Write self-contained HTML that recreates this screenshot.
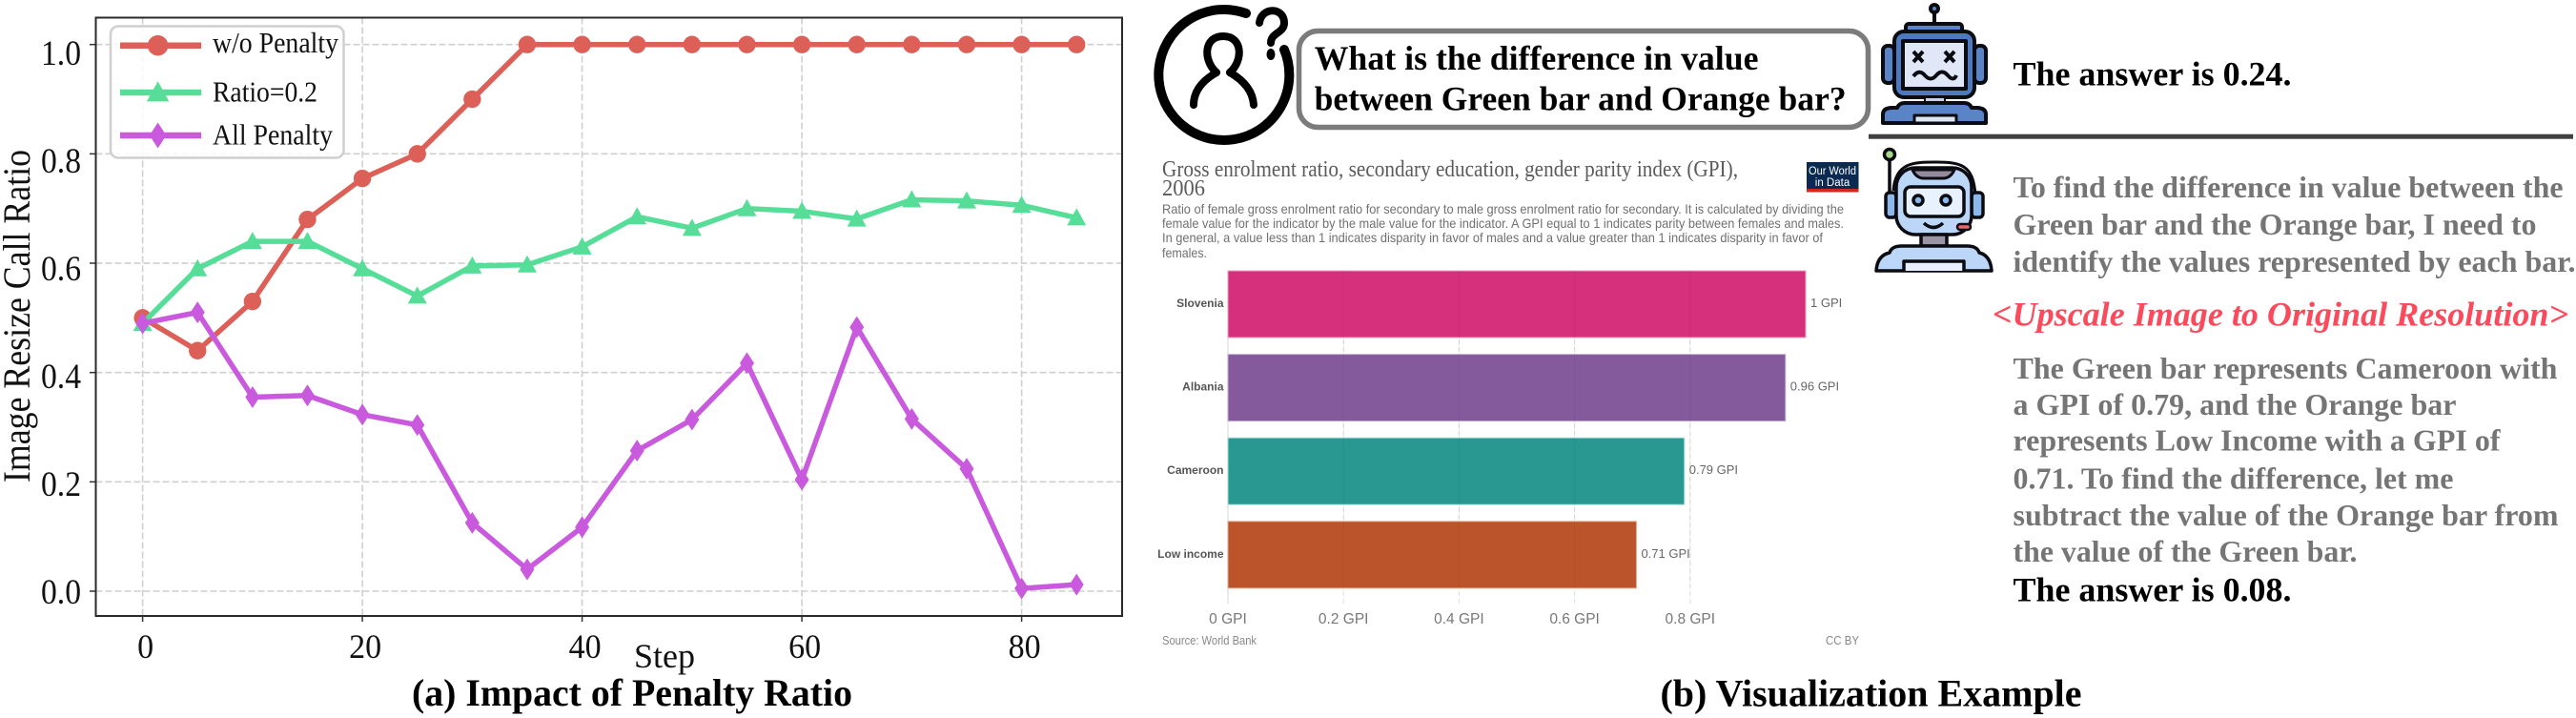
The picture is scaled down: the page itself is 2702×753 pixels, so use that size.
<!DOCTYPE html>
<html lang="en">
<head>
<meta charset="utf-8">
<title>Penalty Ratio and Visualization Example</title>
<style>
html,body{margin:0;padding:0;background:#fff;width:2702px;height:753px;overflow:hidden}
svg{display:block}
.tnr{font-family:"Liberation Serif","Times New Roman",serif}
.sans{font-family:"Liberation Sans",Arial,sans-serif}
.b{font-weight:700}
.gray{fill:#757575;font-size:32px;font-weight:700}
.ans{fill:#000;font-size:36px;font-weight:700}
.sub{fill:#707070;font-size:14px}
</style>
</head>
<body>
<svg id="figure" xmlns="http://www.w3.org/2000/svg" width="2702" height="753" viewBox="0 0 2702 753">
  <rect x="0" y="0" width="2702" height="753" fill="#fff"/>

  <g id="line-chart"></g>

  <text class="tnr" x="31" y="331.5" font-size="40" fill="#111" text-anchor="middle" transform="rotate(-90 31 331.5)" textLength="349" lengthAdjust="spacingAndGlyphs">Image Resize Call Ratio</text>
  <text class="tnr" x="665" y="700" font-size="36" fill="#111" textLength="64" lengthAdjust="spacingAndGlyphs">Step</text>
  <text class="tnr b" x="432" y="740" font-size="40" fill="#000" textLength="462" lengthAdjust="spacingAndGlyphs">(a) Impact of Penalty Ratio</text>

  <!-- person icon -->
  <g fill="none" stroke="#000" stroke-linecap="round">
    <path d="M1307 14 A68.5 68.5 0 1 0 1347 52" stroke-width="10"/>
    <path d="M1276 76 C1262 64 1262 38 1283 38 C1304 38 1304 64 1290 76" stroke-width="8"/>
    <path d="M1276 76 C1262 84 1252 95 1252 110 M1290 76 C1304 84 1314 95 1315 110" stroke-width="8"/>
    <path d="M1321 24 C1323 7 1347 7 1347 24 C1347 35 1333 34 1333 45" stroke-width="8"/>
    <ellipse cx="1333" cy="57" rx="4.5" ry="6" fill="#000" stroke="none"/>
  </g>

  <!-- question -->
  <rect x="1362.5" y="32.5" width="597" height="101" rx="20" ry="20" fill="#fff" stroke="#7b7b7b" stroke-width="5.5"/>
  <text class="tnr b" x="1378.6" y="73" font-size="36" fill="#000" textLength="466" lengthAdjust="spacingAndGlyphs">What is the difference in value</text>
  <text class="tnr b" x="1378.6" y="115.7" font-size="36" fill="#000" textLength="558" lengthAdjust="spacingAndGlyphs">between Green bar and Orange bar?</text>

  <!-- broken robot -->
  <g stroke="#0b0b12" stroke-width="4" stroke-linejoin="round">
    <circle cx="2029" cy="9" r="4" fill="#5b84c8"/>
    <line x1="2029" y1="13" x2="2029" y2="25"/>
    <rect x="1999" y="25" width="59" height="10" rx="3" fill="#5b84c8"/>
    <rect x="1975" y="48" width="12" height="39" rx="5" fill="#5b84c8"/>
    <rect x="2071" y="48" width="12" height="39" rx="5" fill="#5b84c8"/>
    <rect x="1987" y="33" width="84" height="69" rx="10" fill="#4f79bf"/>
    <rect x="1996" y="43" width="66" height="50" fill="#e0e8f7"/>
    <path d="M2007 54 L2017 65 M2017 54 L2007 65 M2040 54 L2050 65 M2050 54 L2040 65" fill="none"/>
    <path d="M2007 80 Q2013 72 2019 79 T2031 79 T2043 79 T2052 79" fill="none"/>
    <rect x="2019" y="102" width="21" height="6" fill="#c5d3ec" stroke-width="2"/>
    <path d="M1975 129 L1975 120 Q1975 113 1985 113 L1990 113 Q1992 108 1998 108 L2060 108 Q2066 108 2068 113 L2073 113 Q2083 113 2083 120 L2083 129 Z" fill="#5b84c8"/>
    <rect x="2008" y="121" width="44" height="8" fill="#dfe7f6" stroke-width="3"/>
  </g>

  <text class="tnr ans" x="2111.5" y="89.3" textLength="292" lengthAdjust="spacingAndGlyphs">The answer is 0.24.</text>
  <rect x="1960" y="140.7" width="739" height="5" fill="#404040"/>

  <!-- helpful robot -->
  <g stroke="#0b0b12" stroke-width="3.5" stroke-linejoin="round">
    <line x1="1982" y1="168" x2="1982" y2="205"/>
    <circle cx="1982" cy="162" r="5.5" fill="#a8d98a"/>
    <path d="M1986 200 C1988 170 2008 170 2030 170 C2056 170 2070 172 2072 205" fill="none" stroke-width="3"/>
    <rect x="1978" y="202" width="11" height="26" rx="4" fill="#8fb8ea"/>
    <rect x="2068" y="202" width="12" height="26" rx="4" fill="#8fb8ea"/>
    <rect x="1989" y="176" width="79" height="70" rx="20" fill="#bcd6f7"/>
    <path d="M2006 178 L2050 178 Q2046 187 2038 187 L2018 187 Q2010 187 2006 178 Z" fill="#948c9c" stroke-width="3"/>
    <rect x="1998" y="196" width="62" height="31" rx="6" fill="#e8f1fe"/>
    <circle cx="2012" cy="210" r="5" fill="#8fb8ea"/>
    <circle cx="2041" cy="210" r="5" fill="#8fb8ea"/>
    <path d="M2018 234 Q2028 243 2038 234" fill="none"/>
    <rect x="2053" y="235" width="14" height="6" rx="3" fill="#e5686c" stroke-width="2.5"/>
    <rect x="2015" y="246" width="27" height="12" fill="#9b94a4"/>
    <path d="M1968 284 Q1969 268 1982 265 Q1984 258 1995 258 L2063 258 Q2074 258 2076 265 Q2088 268 2089 284 Z" fill="#bcd6f7"/>
    <path d="M1997 284 L1997 274 L2060 274 L2060 284" fill="#e8f0ff"/>
  </g>

  <!-- reasoning text -->
  <text class="tnr gray" x="2111.5" y="207" textLength="577" lengthAdjust="spacingAndGlyphs">To find the difference in value between the</text>
  <text class="tnr gray" x="2111.5" y="246" textLength="549" lengthAdjust="spacingAndGlyphs">Green bar and the Orange bar, I need to</text>
  <text class="tnr gray" x="2111.5" y="285" textLength="590" lengthAdjust="spacingAndGlyphs">identify the values represented by each bar.</text>
  <text class="tnr b" x="2090" y="341.7" font-size="36" font-style="italic" fill="#fb4a5c" textLength="604" lengthAdjust="spacingAndGlyphs">&lt;Upscale Image to Original Resolution&gt;</text>
  <text class="tnr gray" x="2111.5" y="397" textLength="571" lengthAdjust="spacingAndGlyphs">The Green bar represents Cameroon with</text>
  <text class="tnr gray" x="2111.5" y="435" textLength="465" lengthAdjust="spacingAndGlyphs">a GPI of 0.79, and the Orange bar</text>
  <text class="tnr gray" x="2111.5" y="472.7" textLength="511" lengthAdjust="spacingAndGlyphs">represents Low Income with a GPI of</text>
  <text class="tnr gray" x="2111.5" y="512.7" textLength="462" lengthAdjust="spacingAndGlyphs">0.71. To find the difference, let me</text>
  <text class="tnr gray" x="2111.5" y="551" textLength="572" lengthAdjust="spacingAndGlyphs">subtract the value of the Orange bar from</text>
  <text class="tnr gray" x="2111.5" y="589" textLength="361" lengthAdjust="spacingAndGlyphs">the value of the Green bar.</text>
  <text class="tnr ans" x="2111.5" y="630.7" textLength="292" lengthAdjust="spacingAndGlyphs">The answer is 0.08.</text>

  <!-- embedded bar chart text -->
  <text class="tnr" x="1219" y="185" font-size="24" fill="#5b5b5b" textLength="604" lengthAdjust="spacingAndGlyphs">Gross enrolment ratio, secondary education, gender parity index (GPI),</text>
  <text class="tnr" x="1219" y="205" font-size="24" fill="#5b5b5b" textLength="45" lengthAdjust="spacingAndGlyphs">2006</text>
  <text class="sans sub" x="1219" y="224" textLength="715" lengthAdjust="spacingAndGlyphs">Ratio of female gross enrolment ratio for secondary to male gross enrolment ratio for secondary. It is calculated by dividing the</text>
  <text class="sans sub" x="1219" y="239" textLength="715" lengthAdjust="spacingAndGlyphs">female value for the indicator by the male value for the indicator. A GPI equal to 1 indicates parity between females and males.</text>
  <text class="sans sub" x="1219" y="254" textLength="693" lengthAdjust="spacingAndGlyphs">In general, a value less than 1 indicates disparity in favor of males and a value greater than 1 indicates disparity in favor of</text>
  <text class="sans sub" x="1219" y="270" textLength="47" lengthAdjust="spacingAndGlyphs">females.</text>

  <g>
    <rect x="1895" y="170" width="54.5" height="31" fill="#0a2a52"/>
    <rect x="1895" y="198" width="54.5" height="3.5" fill="#d0281f"/>
    <text class="sans" x="1922" y="183" font-size="11.5" fill="#fff" text-anchor="middle" textLength="50" lengthAdjust="spacingAndGlyphs">Our World</text>
    <text class="sans" x="1922" y="195" font-size="11.5" fill="#fff" text-anchor="middle">in Data</text>
  </g>

  <g id="bar-chart"></g>

  <text class="sans" x="1219" y="676" font-size="13" fill="#888" textLength="99" lengthAdjust="spacingAndGlyphs">Source: World Bank</text>
  <text class="sans" x="1915" y="676" font-size="13" fill="#888" textLength="35" lengthAdjust="spacingAndGlyphs">CC BY</text>

  <text class="tnr b" x="1741.5" y="740.7" font-size="40" fill="#000" textLength="442" lengthAdjust="spacingAndGlyphs">(b) Visualization Example</text>
</svg>

<script>
// ---- line chart data ----
const steps = [0,5,10,15,20,25,30,35,40,45,50,55,60,65,70,75,80,85];
const noPenalty = [0.50,0.44,0.53,0.68,0.755,0.80,0.90,1,1,1,1,1,1,1,1,1,1,1];
const ratioTwo = [0.49,0.59,0.64,0.64,0.59,0.54,0.595,0.597,0.63,0.685,0.664,0.70,0.695,0.681,0.716,0.714,0.706,0.683];
const allPenalty = [0.49,0.51,0.355,0.358,0.323,0.304,0.125,0.04,0.117,0.257,0.314,0.417,0.204,0.483,0.315,0.224,0.005,0.012];
const xTicks = [0,20,40,60,80];
const yTicks = [0,0.2,0.4,0.6,0.8,1];
const legendLabels = ['w/o Penalty','Ratio=0.2','All Penalty'];

// ---- bar chart data ----
const barCategories = ['Slovenia','Albania','Cameroon','Low income'];
const barValues = [1,0.965,0.79,0.707];
const barLabels = ['1 GPI','0.96 GPI','0.79 GPI','0.71 GPI'];
const gpiTicks = [0,0.2,0.4,0.6,0.8];
const gpiTickLabels = ['0 GPI','0.2 GPI','0.4 GPI','0.6 GPI','0.8 GPI'];

const NS = 'http://www.w3.org/2000/svg';
function mk(tag, attrs, parent, txt) {
  const el = document.createElementNS(NS, tag);
  for (const k in attrs) el.setAttribute(k, attrs[k]);
  if (txt !== undefined) el.textContent = txt;
  parent.appendChild(el);
  return el;
}
const X = v => 149.6 + v * 11.525;
const Y = v => 620 - v * 573.3;
const SERIF = '"Liberation Serif","Times New Roman",serif';
const SANS = '"Liberation Sans",Arial,sans-serif';
const chart = document.getElementById('line-chart');

const plotBg = mk('rect', {x:100.5,y:18.5,width:1076.5,height:627.5,fill:'#fff'}, chart);



yTicks.forEach(v => {
  const g = mk('line', {x1:100.5,x2:1177,y1:Y(v),y2:Y(v),stroke:'#cfcfcf','stroke-width':1.6,'stroke-dasharray':'7 3'}, chart);
  
  
  const t = mk('line', {x1:94,x2:100.5,y1:Y(v),y2:Y(v),stroke:'#333','stroke-width':1.5}, chart);
  
  
  const l = mk('text', {x:85,y:633 - v * 565,'text-anchor':'end','font-family':SERIF,'font-size':37,fill:'#111',textLength:42,lengthAdjust:'spacingAndGlyphs'}, chart, v.toFixed(1));
  
  
});
xTicks.forEach(v => {
  const g = mk('line', {x1:X(v),x2:X(v),y1:18.5,y2:646,stroke:'#cfcfcf','stroke-width':1.6,'stroke-dasharray':'7 3'}, chart);
  
  
  const t = mk('line', {x1:X(v),x2:X(v),y1:646,y2:652,stroke:'#333','stroke-width':1.5}, chart);
  
  
  const l = mk('text', {x:X(v)+3,y:690,'text-anchor':'middle','font-family':SERIF,'font-size':36,fill:'#111',textLength:String(v).length * 17,lengthAdjust:'spacingAndGlyphs'}, chart, String(v));
  
  
});
const frame = mk('rect', {x:100.5,y:18.5,width:1076.5,height:627.5,fill:'none',stroke:'#2a2a2a','stroke-width':2}, chart);



function marker(kind, cx, cy, s, color, parent) {
  let m;
  if (kind === 'circle') {
    m = mk('circle', {cx:cx,cy:cy,r:9.2*s,fill:color}, parent);
  } else if (kind === 'triangle') {
    m = mk('polygon', {points:`${cx},${cy-10*s} ${cx+10*s},${cy+8*s} ${cx-10*s},${cy+8*s}`,fill:color}, parent);
  } else {
    m = mk('polygon', {points:`${cx},${cy-11.5*s} ${cx+7.5*s},${cy} ${cx},${cy+11.5*s} ${cx-7.5*s},${cy}`,fill:color}, parent);
  }
  return m;
}
const seriesList = [
  {name:'no-penalty', values:noPenalty, color:'#dc6058', kind:'circle'},
  {name:'ratio-0-2', values:ratioTwo, color:'#56dd97', kind:'triangle'},
  {name:'all-penalty', values:allPenalty, color:'#c95ade', kind:'diamond'}
];
seriesList.forEach(s => {
  const pts = s.values.map((v,i) => X(steps[i]) + ',' + Y(v)).join(' ');
  const line = mk('polyline', {points:pts,fill:'none',stroke:s.color,'stroke-width':5.5,'stroke-linejoin':'round'}, chart);
  
  
  s.values.forEach((v,i) => {
    const m = marker(s.kind, X(steps[i]), Y(v), 1, s.color, chart);
    
    
  });
});

// legend
const legendBox = mk('rect', {x:116,y:27.5,width:244.5,height:138,rx:8,fill:'#fff','fill-opacity':0.85,stroke:'#cfcfcf','stroke-width':2.5}, chart);


const legendY = [47.7, 97, 142];
const legendTextY = [55, 106.7, 151.7];
const legendTextW = [132, 110, 126];
seriesList.forEach((s,i) => {
  const ln = mk('line', {x1:126,x2:211,y1:legendY[i],y2:legendY[i],stroke:s.color,'stroke-width':6.5}, chart);
  
  
  const m = marker(s.kind, 165.6, legendY[i], 1.17, s.color, chart);
  
  
  const t = mk('text', {x:223,y:legendTextY[i],'font-family':SERIF,'font-size':31,fill:'#111',textLength:legendTextW[i],lengthAdjust:'spacingAndGlyphs'}, chart, legendLabels[i]);
  
  
});

// bar chart
const bc = document.getElementById('bar-chart');
const BX = v => 1288 + v * 606;
const BY = i => 284 + i * 87.6;
const barH = 70;
const barColors = ['#d62f7c','#845a9d','#289890','#bb542b'];
const barEdges = ['#e8a0c2','#c4aed2','#a8dcd6','#e4a88e'];

const axisLine = mk('line', {x1:BX(0),x2:BX(0),y1:284,y2:633,stroke:'#dcdcdc','stroke-width':1.2}, bc);


gpiTicks.forEach((v,i) => {
  if (v > 0) {
    const g = mk('line', {x1:BX(v),x2:BX(v),y1:284,y2:633,stroke:'#dddddd','stroke-width':1,'stroke-dasharray':'5 3'}, bc);
    
    
  }
  const l = mk('text', {x:BX(v),y:654,'text-anchor':'middle','font-family':SANS,'font-size':15.5,fill:'#777'}, bc, gpiTickLabels[i]);
  
  
});
barCategories.forEach((c,i) => {
  const r = mk('rect', {x:BX(0),y:BY(i),width:BX(barValues[i])-BX(0),height:barH,fill:barColors[i],stroke:barEdges[i],'stroke-width':1}, bc);
  
  
  const cl = mk('text', {x:1283.5,y:BY(i)+38,'text-anchor':'end','font-family':SANS,'font-size':12,'font-weight':700,fill:'#555'}, bc, c);
  
  
  const vl = mk('text', {x:BX(barValues[i])+5,y:BY(i)+38,'font-family':SANS,'font-size':13,fill:'#666'}, bc, barLabels[i]);
  
  
});
gpiTicks.forEach(v => {
  if (v > 0) {
    const o = mk('line', {x1:BX(v),x2:BX(v),y1:284,y2:617,stroke:'#000','stroke-opacity':0.05,'stroke-width':1}, bc);
    
    
  }
});
</script>
</body>
</html>
